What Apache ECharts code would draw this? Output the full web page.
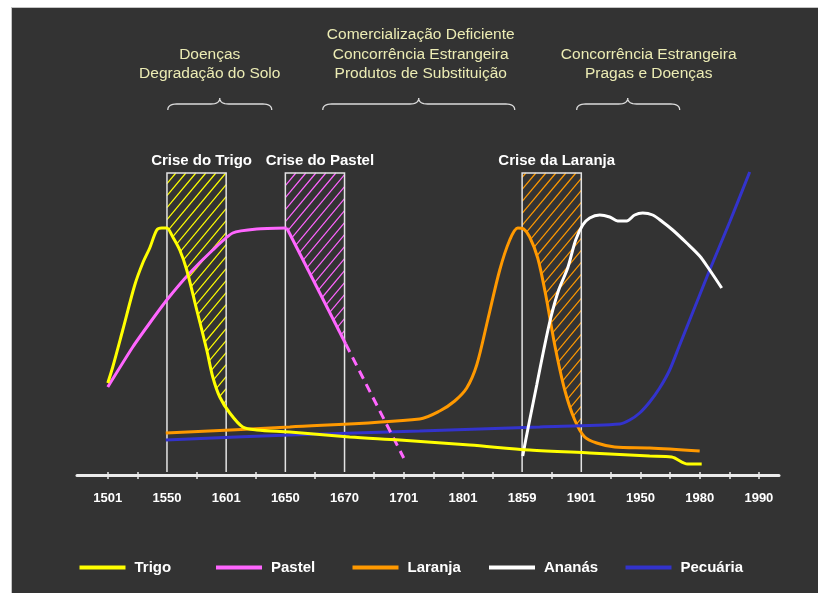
<!DOCTYPE html>
<html><head><meta charset="utf-8">
<script src="https://cdn.jsdelivr.net/npm/echarts@6/dist/echarts.min.js"></script>
<style>
html,body{margin:0;padding:0;background:#fff;}
#wrap{position:relative;width:818px;height:593px;overflow:hidden;}
#panel{position:absolute;left:11px;top:7px;width:830px;height:610px;background:#333333;border-left:1.5px solid #c4c4c4;border-top:1.5px solid #c4c4c4;}
#chart{position:absolute;left:0;top:0;width:818px;height:593px;}
</style></head><body>
<div id="wrap"><div id="panel"></div><div id="chart"></div></div>
<script>
// ---- data ----
const yearLabels = ['1501','1550','1601','1650','1670','1701','1801','1859','1901','1950','1980','1990'];
const labelPositions = [0,1,2,3,4,5,6,7,8,9,10,11];
const tickPositions = [0,0.5,1.5,2.5,3.5,4.5,5,5.5,6,6.5,7.5,8.5,9,9.5,10,10.5,11];
const seriesNames = ['Trigo','Pastel','Laranja','Ananás','Pecuária'];

const trigo = [[0.000,92],[0.084,108],[0.253,145],[0.456,190],[0.591,212],[0.709,227],[0.828,245],[0.912,247],[0.997,247],[1.098,238],[1.216,225],[1.334,205],[1.503,165],[1.672,125],[1.774,98],[1.892,78],[2.061,62],[2.280,48],[2.517,45],[3.074,43],[4.088,38],[4.932,35],[6.115,30],[7.128,25],[8.142,22],[9.155,19],[9.527,18],[9.797,11],[10.034,11]];
const pastel = [[0,88],[0.422,128],[0.709,152],[0.997,175],[1.385,202],[1.774,225],[2.111,242],[2.517,246],[3.024,247]];
const pastelDecline = [[3.024,247],[4.02,131]];
const pastelProjection = [[4.02,131],[5.0,17]];
const laranja = [[0.98,42],[3.074,48],[5.27,56],[5.608,64],[5.861,74],[6.064,87],[6.233,110],[6.419,155],[6.622,205],[6.791,235],[6.926,247],[7.027,246],[7.128,238],[7.264,217],[7.399,180],[7.551,130],[7.720,85],[7.889,55],[8.057,38],[8.260,32],[8.564,28],[9.155,27],[10.0,24]];
const ananas = [[7.010,19],[7.061,35],[7.128,55],[7.247,90],[7.365,125],[7.483,157],[7.618,185],[7.770,207],[7.905,235],[8.024,250],[8.142,257],[8.311,260],[8.480,258],[8.615,254],[8.767,254],[8.902,260],[9.037,262],[9.206,260],[9.375,253],[9.544,245],[9.780,232],[10.0,219],[10.169,205],[10.372,187]];
const pecuaria = [[0.98,35],[3.074,40],[5.27,44],[7.297,48],[8.649,51],[8.818,55],[8.986,62],[9.155,73],[9.324,87],[9.493,105],[9.662,130],[9.831,155],[10.0,180],[10.169,205],[10.507,253],[10.845,303]];

const crisisStart = [1,3,7];
const crisisEnd = [2,4,8];
const crisisLabels = ['Crise do Trigo','Crise do Pastel','Crise da Laranja'];
const crisisTop = 302;
const crisisBase = 3;

const annotationLines = [['Doenças','Degradação do Solo'],['Comercialização Deficiente','Concorrência Estrangeira','Produtos de Substituição'],['Concorrência Estrangeira','Pragas e Doenças']];
const annotationCenter = [1.723,5.287,9.139];
const braceStart = [1.014,3.632,7.922];
const braceEnd = [2.770,6.875,9.662];
const braceTip = [1.892,5.253,8.784];
const annotationTextLevel = 401;
const braceLevel = 371;

// ---- styles ----
const FONT = '"Liberation Sans", Arial, sans-serif';
const colors = {Trigo:'#ffff00', Pastel:'#ff66ff', Laranja:'#ff9900', 'Ananás':'#ffffff', 'Pecuária':'#3333cc'};
const crisisCurves = [trigo, pastel.concat(pastelDecline.slice(1)), laranja];
const crisisColors = [colors.Trigo, colors.Pastel, colors.Laranja];

function interp(curve, u){
  if(u <= curve[0][0]) return curve[0][1];
  for(let i=0;i<curve.length-1;i++){
    const a=curve[i], b=curve[i+1];
    if(u>=a[0] && u<=b[0]) return a[1] + (b[1]-a[1])*(u-a[0])/(b[0]-a[0]);
  }
  return curve[curve.length-1][1];
}
function hatchSegments(poly, step, slope){
  const f = p => p[0] + p[1]/slope;
  let minC=Infinity, maxC=-Infinity;
  poly.forEach(p=>{const c=f(p); minC=Math.min(minC,c); maxC=Math.max(maxC,c);});
  const segs=[];
  for(let c=Math.ceil(minC/step)*step+0.01; c<maxC; c+=step){
    const hits=[];
    for(let i=0;i<poly.length;i++){
      const p=poly[i], q=poly[(i+1)%poly.length];
      const fp=f(p)-c, fq=f(q)-c;
      if((fp>0)!==(fq>0)){const t=fp/(fp-fq); hits.push([p[0]+t*(q[0]-p[0]), p[1]+t*(q[1]-p[1])]);}
    }
    hits.sort((a,b)=>a[0]-b[0]);
    for(let j=0;j+1<hits.length;j+=2) segs.push([hits[j],hits[j+1]]);
  }
  return segs;
}
function renderCrisis(params, api){
  const u0=api.value(0), u1=api.value(1), i=api.value(2);
  const curve=crisisCurves[i];
  const pTL=api.coord([u0,crisisTop]), pTR=api.coord([u1,crisisTop]);
  const pBL=api.coord([u0,crisisBase]), pBR=api.coord([u1,crisisBase]);
  const pts=[[u1,interp(curve,u1)]];
  curve.filter(p=>p[0]>u0 && p[0]<u1).slice().reverse().forEach(p=>pts.push(p));
  pts.push([u0,interp(curve,u0)]);
  const poly=[pTL,pTR].concat(pts.map(p=>api.coord(p)));
  const children=hatchSegments(poly,10,1.2).map(s=>({type:'line',shape:{x1:s[0][0],y1:s[0][1],x2:s[1][0],y2:s[1][1]},style:{stroke:crisisColors[i],lineWidth:1.2}}));
  children.push({type:'polyline',shape:{points:[pBL,pTL,pTR,pBR]},style:{stroke:'#e4e4e4',lineWidth:1.5,fill:null}});
  children.push({type:'text',x:(pTL[0]+pTR[0])/2+5,y:pTL[1]-12,style:{text:crisisLabels[i],fill:'#ffffff',font:'bold 15px '+FONT,align:'center',verticalAlign:'middle'}});
  return {type:'group',children};
}
function quad(p0,c,p1,n){
  const out=[];
  for(let k=0;k<=n;k++){const t=k/n;out.push([(1-t)*(1-t)*p0[0]+2*(1-t)*t*c[0]+t*t*p1[0],(1-t)*(1-t)*p0[1]+2*(1-t)*t*c[1]+t*t*p1[1]]);}
  return out;
}
function renderAnnotation(params, api){
  const i=api.value(0);
  const lines=annotationLines[i];
  const base=api.coord([annotationCenter[i],annotationTextLevel]);
  const children=lines.map((t,k)=>({type:'text',x:base[0],y:base[1]-(lines.length-1-k)*19.5,style:{text:t,fill:'#ececb4',font:'15.5px '+FONT,align:'center',verticalAlign:'middle'}}));
  const a=api.coord([braceStart[i],braceLevel]), b=api.coord([braceEnd[i],braceLevel]), m=api.coord([braceTip[i],braceLevel]);
  const y=a[1], yEnd=y+6, yTip=y-6;
  let pts=[];
  pts=pts.concat(quad([a[0],yEnd],[a[0],y],[a[0]+9,y],8));
  pts=pts.concat(quad([m[0]-9,y],[m[0],y],[m[0],yTip],8));
  pts=pts.concat(quad([m[0],yTip],[m[0],y],[m[0]+9,y],8));
  pts=pts.concat(quad([b[0]-9,y],[b[0],y],[b[0],yEnd],8));
  children.push({type:'polyline',shape:{points:pts},style:{stroke:'#dcdcdc',lineWidth:1.3,fill:null}});
  return {type:'group',children};
}

const chart = echarts.init(document.getElementById('chart'), null, {renderer:'canvas'});
const lineSeries = (name, data, extra) => Object.assign({
  type:'line', name, data, showSymbol:false, smooth:0.3, z:5,
  lineStyle:{color:colors[name]||colors.Pastel, width:3}, itemStyle:{color:colors[name]||colors.Pastel}
}, extra||{});

chart.setOption({
  animation:false,
  backgroundColor:'transparent',
  grid:{left:77,right:39,top:165,bottom:118,outerBoundsMode:'none'},
  xAxis:[{
    type:'value', min:-0.52, max:11.34, splitLine:{show:false},
    axisLine:{show:true,lineStyle:{color:'#ececec',width:3}},
    axisTick:{show:true,length:4,customValues:tickPositions,lineStyle:{color:'#ececec',width:1.5}},
    axisLabel:{customValues:labelPositions,formatter:v=>yearLabels[Math.round(v)],color:'#ffffff',fontWeight:'bold',fontSize:13,fontFamily:FONT,margin:17}
  },{
    type:'value', position:'bottom', min:-0.52, max:11.34, splitLine:{show:false},
    axisLine:{show:false}, axisLabel:{show:false},
    axisTick:{show:true,inside:true,length:3,customValues:tickPositions,lineStyle:{color:'#ececec',width:1.5}}
  }],
  yAxis:{type:'value',min:0,max:310,show:false,splitLine:{show:false}},
  legend:seriesNames.map((n,i)=>({
    data:[n], left:74.5+i*136.5, top:555, icon:'rect', itemWidth:46, itemHeight:4,
    textStyle:{color:'#ffffff',fontWeight:'bold',fontSize:15,fontFamily:FONT,padding:[0,0,0,4]}
  })),
  series:[
    {type:'custom', name:'crises', renderItem:renderCrisis, z:1, silent:true,
     data:crisisStart.map((s,i)=>[s,crisisEnd[i],i]), encode:{x:[0,1]}},
    {type:'custom', name:'annotations', renderItem:renderAnnotation, z:1, silent:true, clip:false,
     data:annotationLines.map((l,i)=>[i]), encode:{x:[]}},
    lineSeries('Laranja', laranja),
    lineSeries('Pecuária', pecuaria),
    lineSeries('Ananás', ananas),
    lineSeries('Pastel', pastel, {smooth:0.2}),
    lineSeries('Pastel decline', pastelDecline, {smooth:false}),
    lineSeries('Pastel projection', pastelProjection, {smooth:false, lineStyle:{color:colors.Pastel,width:3,type:[9,6]}}),
    lineSeries('Trigo', trigo)
  ]
});
</script></body></html>
